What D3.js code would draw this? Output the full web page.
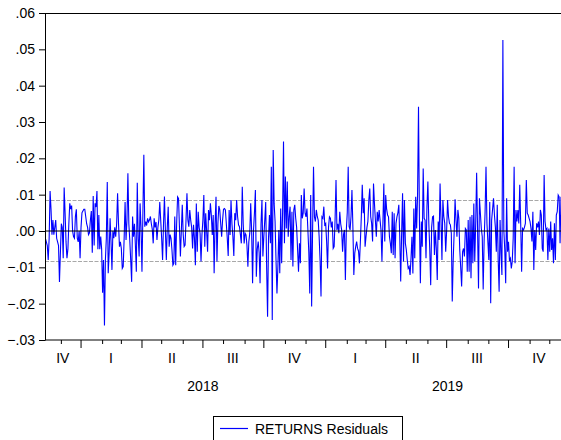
<!DOCTYPE html>
<html>
<head>
<meta charset="utf-8">
<script src="https://cdn.jsdelivr.net/npm/d3@7"></script>
<style>
  body { margin: 0; background: #fff; }
  svg { display: block; font-family: "Liberation Sans", Arial, sans-serif; }
</style>
</head>
<body>
<div id="container"></div>
<script>
var width = 561,
    height = 440,
    margin = { left: 45, top: 13, bottom: 100 },
    plot_bottom = height - margin.bottom;

// residuals, one value per weekday starting 2017-11-08
var resid2017 = [-.002,-.003,-.004,-.008,-.002,.011,.006,-.001,.003,-.001,
  .001,.003,-.002,-.003,-.004,-.014,-.006,.002,.001,-.0075,
  .012,.005,-.003,-.0075,-.005,.002,.0076,.006,.007,.000,
  -.0015,-.002,.004,.006,-.002,-.003,.000,-.0075];

var resid2018 = [.001,.005,.0055,.006,.006,.004,.002,.001,-.001,-.0005,
  .003,.0055,-.006,.0096,-.004,.0076,.0066,.011,-.005,.0044,
  -.005,-.0015,-.005,-.017,-.008,-.026,-.008,-.002,.0135,-.0116,
  -.006,.0035,-.003,-.0107,.000,-.002,.001,-.0016,.002,.0104,
  .002,-.0043,-.003,-.0048,-.0103,-.0098,-.002,.008,-.0025,.003,
  .0159,.002,-.0025,-.008,-.014,.004,-.0016,.002,-.004,-.0112,
  .0133,-.002,-.007,.0076,.001,-.0112,.005,.021,.0012,.0026,
  .0015,.0035,.0025,.003,.004,.002,.0005,-.0034,.0035,.001,
  .0025,-.0025,.001,.003,.008,.003,-.002,-.008,.002,.0095,
  .000,-.008,.001,.0067,-.0043,-.001,-.002,-.0052,
  -.0094,-.0089,.004,-.0094,.002,.0094,.009,.001,-.007,.000,
  .0072,-.001,-.0043,-.0039,.003,.0104,.003,.0012,.0058,.003,
  .001,-.0048,.0017,-.002,-.0094,.0076,-.0057,.0053,.001,-.0006,
  -.0084,-.001,.003,.0099,-.0043,.0049,.000,-.0057,.0058,.003,
  .0076,.0044,-.0011,.0044,-.0116,.002,.0094,-.0084,.002,.0069,
  .0058,.002,-.0016,.003,.006,.0062,.0058,.002,-.002,-.0069,
  .0058,-.0011,.0085,.002,-.0016,-.0069,.0049,.003,
  .0085,.004,.0017,.0012,-.001,-.0034,.0122,.002,-.0034,-.0006,
  -.0011,-.004,-.0098,-.003,-.0006,.0076,.000,-.0144,.0003,.005,
  .0113,-.0126,-.005,-.0029,-.006,-.0144,.002,.0085,-.007,-.0016,
  .003,.008,-.010,-.0236,-.002,.0044,-.0034,.0177,-.0245,.0223,
  .0076,.0026,-.008,-.0172,-.0098,.0003,-.0116,.0062,-.0089,.005,
  .0246,-.0034,.015,.0007,.0136,-.0016,.0039,.0067,-.008,.0053,
  -.0098,.0058,.0072,.0035,.001,-.005,-.0112,-.0034,
  -.0089,.0099,.0035,.0049,.0117,.005,.0039,.0062,.0003,-.006,
  -.0172,.0099,-.0208,.000,.0177,.0039,.0026,.0058,.004,.003,
  -.0016,-.008,-.018,.0039,.0035,.0067,.0017];

var resid2019 = [.0021,-.003,-.0103,.001,.0039,.0035,.001,.0026,-.0048,-.0043,
  .003,.014,.0003,.002,-.0006,.0053,.002,.0003,-.0057,-.001,
  .0003,-.0135,.0003,.005,.0177,.0012,.0003,.004,.0113,.0012,
  -.0121,-.0061,-.0043,-.0029,-.0048,-.0055,-.0089,-.0029,.004,.0127,
  .0049,
  .009,-.0043,-.0016,.001,.0026,.0085,.0117,.004,.0021,-.0029,
  .0131,.0076,.003,-.0016,.0053,.0026,.0058,.003,.0003,-.0084,
  .0021,.0131,-.0029,.0099,.006,.0044,.0039,-.0016,-.0034,-.0061,
  .0053,-.0066,.0049,-.0075,.0021,.0039,.005,.0072,-.0016,-.0139,
  -.0006,.0104,-.0084,.0085,-.0034,-.0052,-.008,-.0103,-.0098,-.0121,
  -.0075,-.0016,-.0117,.0062,-.0075,.0094,.0007,.010,.0342,.0026,
  -.0144,.0026,-.0043,.0172,.0035,.003,-.0075,.0067,
  .0136,.0021,-.005,-.0149,.001,.0039,.0041,-.0066,.0003,-.005,
  -.0135,.0026,-.0025,.0131,.003,-.008,.0085,.004,.0021,-.0057,
  .000,.0085,.004,.0021,.0017,-.0006,-.0194,-.008,-.0006,.0087,
  .003,-.0016,.0058,.0035,-.0052,-.010,-.0153,-.0057,-.0048,-.007,
  .0007,.0003,-.0112,.003,-.0112,.0039,-.013,.0044,-.0089,.0076,
  -.0084,.002,.016,.0003,-.0158,.009,.0049,.0007,-.0016,-.0161,
  -.0025,.005,.0177,.0021,-.003,-.008,.008,-.0199,
  .003,.006,.009,.0044,.001,-.0057,.0072,-.008,-.0167,.003,
  -.006,-.0121,.0526,.0003,-.005,-.0144,.009,-.0057,-.003,-.008,
  -.0075,-.0103,-.0084,-.002,.0177,-.0089,.0058,.0026,.0058,.0021,
  .0127,.0021,-.0112,.0007,.0003,.001,.0021,.014,.0049,.0044,
  .0035,.0026,.0007,-.0029,.0053,-.0107,.0003,-.0052,.0021,.001,
  .0026,-.0011,.0058,.0044,-.0048,-.0057,.0154,.0026,.0003,.0007,
  -.008,.0007,-.0057,.0026,-.0052,-.002,-.0089,.0021,-.008,.0044,
  .0053,.0099,.0094,-.0034,.0094];

var y_ticks = [-.03, -.02, -.01, 0, .01, .02, .03, .04, .05, .06];
var se_band = [-.0084, .0084];
var quarter_names = ['I', 'II', 'III', 'IV'];
var legend_label = 'RETURNS Residuals';

var data = resid2017.concat(resid2018, resid2019);

// weekday calendar (5-day week), carried to the end of 2019 for the axis
var calendar = d3.timeDay.range(new Date(2017, 10, 8), new Date(2020, 0, 1))
    .filter(function (d) { return d.getDay() !== 0 && d.getDay() !== 6; });

var svg = d3.select('#container')
    .append('svg')
    .attr('width', width)
    .attr('height', height)

var scale_x = d3.scaleLinear()
    .domain([0, data.length - 1])
    .range([45.4, 561])
var scale_y = d3.scaleLinear()
    .domain([-.03, .06])
    .range([plot_bottom, margin.top])

svg.append('clipPath').attr('id', 'clip')
    .append('rect')
    .attr('x', margin.left).attr('y', margin.top)
    .attr('width', width).attr('height', plot_bottom - margin.top)

var plot = svg.append('g').attr('clip-path', 'url(#clip)')

// +/- standard error bands
plot.selectAll('.band')
    .data(se_band)
    .enter().append('line')
    .attr('x1', margin.left).attr('x2', width + 10)
    .attr('y1', function (d) { return scale_y(d); })
    .attr('y2', function (d) { return scale_y(d); })
    .attr('stroke', '#a8a8a8')
    .attr('stroke-width', 1.2)
    .attr('stroke-dasharray', '4,1.5')

var line_generator = d3.line()
    .x(function (d, i) { return scale_x(i); })
    .y(function (d) { return scale_y(d); })

plot.append('path')
    .attr('d', line_generator(data))
    .attr('fill', 'none')
    .attr('stroke', '#0000ff')
    .attr('stroke-width', 1.1)

plot.append('line')
    .attr('x1', margin.left).attr('x2', width + 10)
    .attr('y1', scale_y(0)).attr('y2', scale_y(0))
    .attr('stroke', '#000')
    .attr('stroke-width', 1)

// frame top
svg.append('line')
    .attr('x1', margin.left).attr('x2', width + 10)
    .attr('y1', margin.top + 0.5).attr('y2', margin.top + 0.5)
    .attr('stroke', '#000')

// y axis
var y_axis = d3.axisLeft(scale_y)
    .tickValues(y_ticks)
    .tickSize(6)
    .tickSizeOuter(0)
    .tickPadding(4)
    .tickFormat(function (d) { return d3.format('.2f')(d).replace('0.', '.'); });
svg.append('g')
    .attr('transform', 'translate(' + margin.left + ',0)')
    .call(y_axis)
    .call(function (g) {
        g.selectAll('text').attr('font-size', 14).attr('fill', '#000')
            .attr('font-family', '"Liberation Sans", Arial, sans-serif');
    })

// month boundaries
var month_starts = [], quarter_starts = [];
for (var i = 1; i < calendar.length; i++) {
    if (calendar[i].getMonth() !== calendar[i - 1].getMonth()) {
        month_starts.push(i - 0.5);
        if (calendar[i].getMonth() % 3 === 0) quarter_starts.push(i - 0.5);
    }
}

var x_minor = d3.axisBottom(scale_x)
    .tickValues(month_starts.filter(function (m) { return quarter_starts.indexOf(m) < 0; }))
    .tickSize(4)
    .tickSizeOuter(0)
    .tickFormat('')
svg.append('g')
    .attr('transform', 'translate(0,' + plot_bottom + ')')
    .call(x_minor)
    .select('.domain').attr('d', 'M' + margin.left + ',0H' + (width + 10))

var x_major = d3.axisBottom(scale_x)
    .tickValues(quarter_starts)
    .tickSize(8)
    .tickSizeOuter(0)
    .tickFormat('')
svg.append('g')
    .attr('transform', 'translate(0,' + plot_bottom + ')')
    .call(x_major)
    .select('.domain').remove()

// quarter and year labels
var quarters = d3.groups(d3.range(calendar.length), function (i) {
    return calendar[i].getFullYear() + '-' + Math.floor(calendar[i].getMonth() / 3);
});
svg.selectAll('.qlabel')
    .data(quarters)
    .enter().append('text')
    .attr('x', function (q) {
        var a = q[1][0], b = q[1][q[1].length - 1];
        return (scale_x(a - 0.5) + scale_x(b + 0.5)) / 2;
    })
    .attr('y', plot_bottom + 23)
    .attr('text-anchor', 'middle')
    .attr('font-size', 14)
    .text(function (q) { return quarter_names[+q[0].split('-')[1]]; })

var years = d3.groups(d3.range(calendar.length), function (i) { return calendar[i].getFullYear(); })
    .filter(function (y) { return y[0] !== 2017; });
svg.selectAll('.ylabel')
    .data(years)
    .enter().append('text')
    .attr('x', function (y) {
        return (scale_x(y[1][0] - 0.5) + scale_x(y[1][y[1].length - 1] + 0.5)) / 2;
    })
    .attr('y', plot_bottom + 51)
    .attr('text-anchor', 'middle')
    .attr('font-size', 14)
    .text(function (y) { return y[0]; })

// legend
var legend = svg.append('g')
legend.append('rect')
    .attr('x', 213.5).attr('y', 416.5)
    .attr('width', 189).attr('height', 40)
    .attr('fill', '#fff').attr('stroke', '#000')
legend.append('line')
    .attr('x1', 220).attr('x2', 248)
    .attr('y1', 428.5).attr('y2', 428.5)
    .attr('stroke', '#0000ff').attr('stroke-width', 1.2)
legend.append('text')
    .attr('x', 255).attr('y', 433.5)
    .attr('font-size', 14)
    .text(legend_label)
</script>
</body>
</html>
